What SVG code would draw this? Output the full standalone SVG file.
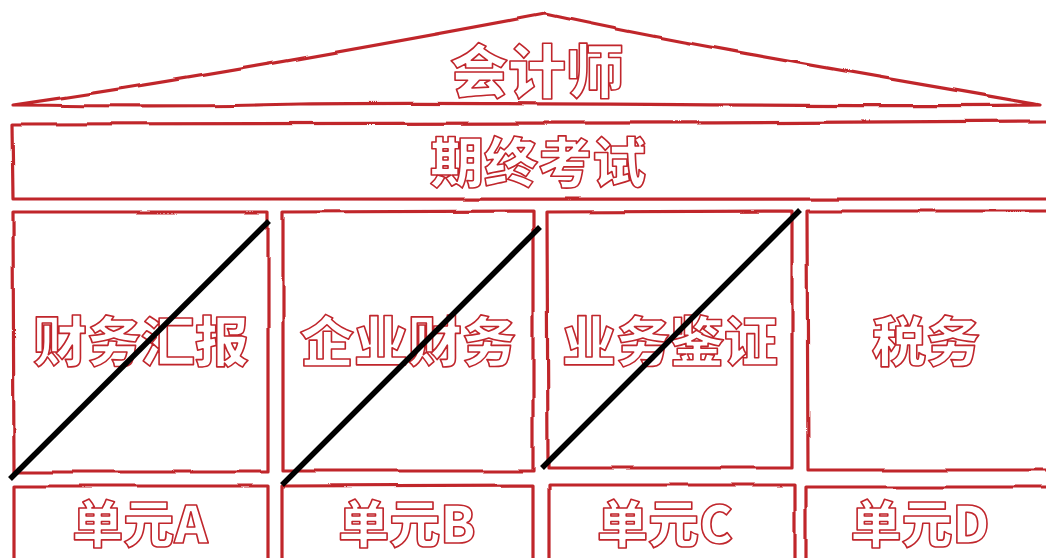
<svg xmlns="http://www.w3.org/2000/svg" width="1046" height="558" viewBox="0 0 1046 558">
  <defs>
    <filter id="rough" x="-5%" y="-5%" width="110%" height="110%">
      <feTurbulence type="fractalNoise" baseFrequency="0.02" numOctaves="1" seed="5" result="n"/>
      <feDisplacementMap in="SourceGraphic" in2="n" scale="4" xChannelSelector="R" yChannelSelector="G"/>
    </filter>
  </defs>
  <style>
    .frame { fill: none; stroke: #c0262c; stroke-width: 3.2; stroke-linejoin: round; stroke-linecap: round; }
    .lbl { font-family: "Noto Sans CJK SC", "Noto Sans", sans-serif; font-weight: 900; fill: #ffffff; stroke: #c0262c; stroke-width: 1.6; stroke-linejoin: round; text-anchor: middle; dominant-baseline: central; }
    .big { font-size: 58px; }
    .mid { font-size: 54px; }
    .unit { font-size: 51px; }
    .slash { stroke: #000000; stroke-width: 5.5; fill: none; }
  </style>
  <rect width="1046" height="558" fill="#ffffff"/>

  <g id="roof">
    <path class="frame" filter="url(#rough)" d="M13,105 C120,90 300,60 545,14 C700,48 900,80 1040,105 C800,108 500,101 300,104 C200,107 100,106 13,105 Z"/>
    <text class="lbl big" x="537" y="68">会计师</text>
  </g>

  <g id="exam-bar">
    <path class="frame" filter="url(#rough)" d="M12,124 C300,121 700,125 1050,121 L1050,199 C700,200 300,197 13,199 Z"/>
    <text class="lbl mid" x="538" y="159">期终考试</text>
  </g>

  <g id="col-1">
    <path class="frame" filter="url(#rough)" d="M13,212 L268,212 L268,472 L14,472 Z"/>
    <text class="lbl mid" x="141" y="338">财务汇报</text>
  </g>
  <g id="col-2">
    <path class="frame" filter="url(#rough)" d="M283,212 L533,211 L533,471 L283,471 Z"/>
    <text class="lbl mid" x="408" y="338">企业财务</text>
  </g>
  <g id="col-3">
    <path class="frame" filter="url(#rough)" d="M547,212 L792,211 L792,468 L548,468 Z"/>
    <text class="lbl mid" x="670" y="338">业务鉴证</text>
  </g>
  <g id="col-4">
    <path class="frame" filter="url(#rough)" d="M807,211 L1050,211 M1050,470 L808,470 L807,211"/>
    <text class="lbl mid" x="926" y="338">税务</text>
  </g>

  <g id="unit-a">
    <path class="frame" filter="url(#rough)" d="M14,570 L14,486 L268,486 L268,570"/>
    <text class="lbl unit" x="140" y="521">单元A</text>
  </g>
  <g id="unit-b">
    <path class="frame" filter="url(#rough)" d="M282,570 L282,486 L533,485 L533,570"/>
    <text class="lbl unit" x="407" y="521">单元B</text>
  </g>
  <g id="unit-c">
    <path class="frame" filter="url(#rough)" d="M549,570 L549,485 L795,485 L795,570"/>
    <text class="lbl unit" x="665" y="521">单元C</text>
  </g>
  <g id="unit-d">
    <path class="frame" filter="url(#rough)" d="M806,570 L806,487 L1050,487"/>
    <text class="lbl unit" x="920" y="521">单元D</text>
  </g>

  <g id="connectors">
    <line class="slash" x1="10" y1="479" x2="269" y2="221"/>
    <line class="slash" x1="282" y1="485" x2="540" y2="227"/>
    <line class="slash" x1="542" y1="468" x2="800" y2="210"/>
  </g>
</svg>
